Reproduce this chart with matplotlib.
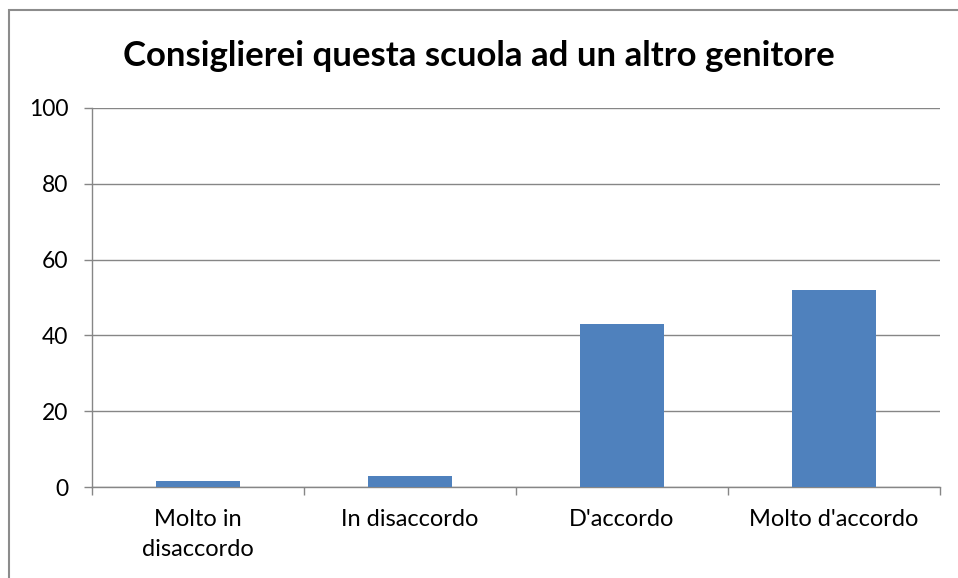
import matplotlib.pyplot as plt
from matplotlib.patches import Rectangle

categories = ["Molto in\ndisaccordo", "In disaccordo", "D'accordo", "Molto d'accordo"]
values = [1.6, 3.0, 43.0, 52.0]
y_ticks = [0, 20, 40, 60, 80, 100]
title = "Consiglierei questa scuola ad un altro genitore"

plt.rcParams['font.family'] = ['Lato', 'DejaVu Sans']

fig = plt.figure(figsize=(9.58, 5.78), dpi=100)
ax = fig.add_axes([92 / 958, 91 / 578, 848 / 958, 379 / 578])

x = range(len(categories))
ax.bar(x, values, width=0.4, color='#4F81BD', zorder=3)

ax.set_xlim(-0.5, len(categories) - 0.5)
ax.set_ylim(0, 100)
ax.set_yticks(y_ticks)
ax.yaxis.grid(True, color='#868686', linewidth=1, zorder=0)

ax.set_xticks(list(x))
ax.set_xticklabels(categories, fontsize=17, linespacing=1.5)
ax.set_xticks([i - 0.5 for i in range(len(categories) + 1)], minor=True)
ax.tick_params(axis='x', which='major', length=0, pad=16)
ax.tick_params(axis='x', which='minor', length=6, color='#868686', width=1)
ax.tick_params(axis='y', labelsize=16.5, length=6, color='#868686', width=1, pad=11)

for side in ['top', 'right']:
    ax.spines[side].set_visible(False)
for side in ['left', 'bottom']:
    ax.spines[side].set_color('#868686')
    ax.spines[side].set_linewidth(1)

fig.text(0.5, 1 - 56 / 578, title, ha='center', va='center',
         fontsize=25, fontweight='bold')

# chart frame
fig.patches.append(Rectangle((9 / 958, -0.1), 1.1, 1 - 10 / 578 + 0.1,
                             transform=fig.transFigure, fill=False,
                             edgecolor='#8C8C8C', linewidth=1.5))

fig.savefig('out.png', dpi=100)
